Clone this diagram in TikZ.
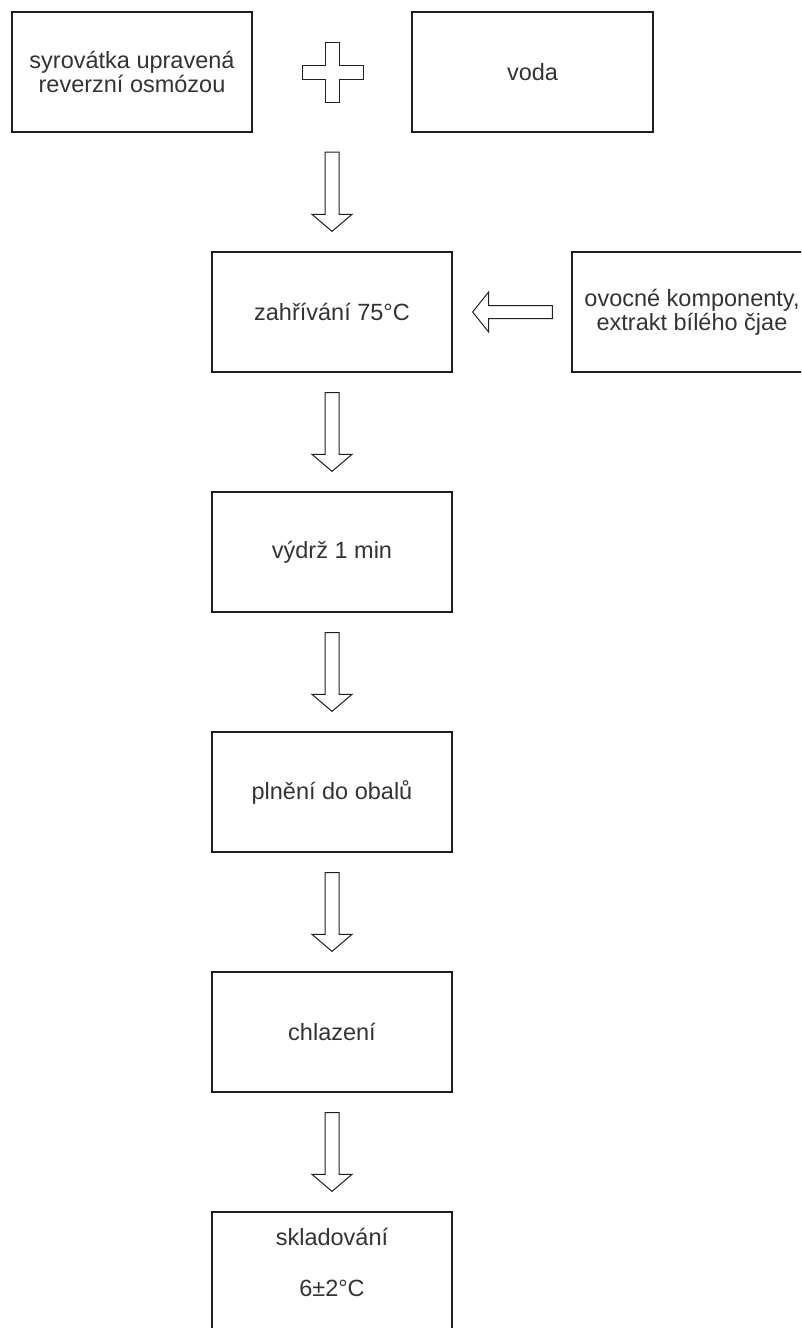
\documentclass[tikz,border=0pt]{standalone}
\usepackage{fontspec}
\setmainfont{Liberation Sans}
\usetikzlibrary{calc}
\definecolor{txt}{gray}{0.2}
\definecolor{ln}{gray}{0.12}
\tikzset{
  box/.style={draw=ln, line width=1.3pt, minimum width=240pt, minimum height=120pt,
    inner sep=0pt, align=center, text=txt, font=\fontsize{23.5}{24}\selectfont},
  lbl/.style={inner sep=0pt, align=center, text=txt, font=\fontsize{23.5}{24}\selectfont},
  blk/.style={draw=ln, line width=1pt, fill=white, line join=miter}
}
\newcommand\blkdown[2]{\draw[blk] ($(#1)+(-7pt,0)$) -- ($(#2)+(-7pt,17pt)$) -- ($(#2)+(-20pt,17pt)$) -- (#2) -- ($(#2)+(20pt,17pt)$) -- ($(#2)+(7pt,17pt)$) -- ($(#1)+(7pt,0)$) -- cycle;}
\begin{document}
\begin{tikzpicture}[x=1pt,y=1pt]
\useasboundingbox (0,0) rectangle (801,-1328);
\clip (0,0) rectangle (801,-1328);
% boxes
\node[box] (syr) at (132,-72) {syrovátka upravená\\reverzní osmózou};
\node[box, minimum width=241pt] (voda) at (532.5,-72) {voda};
\node[box] (zah) at (332,-312) {zahřívání 75°C};
\node[box] (ovo) at (692,-312) {ovocné komponenty,\\extrakt bílého čjae};
\node[box] (vyd) at (332,-552) {výdrž 1 min};
\node[box] (pln) at (332,-792) {plnění do obalů};
\node[box] (chl) at (332,-1032) {chlazení};
\node[box] (skl) at (332,-1272) {};
\node[lbl] (sklt) at (332,-1262) {skladování\\[27pt]6±2°C};
% plus sign
\coordinate (plus) at (332,-72);
\draw[blk] ($(plus)+(-7,30)$) -- ($(plus)+(7,30)$) -- ($(plus)+(7,7)$) -- ($(plus)+(31,7)$)
  -- ($(plus)+(31,-7)$) -- ($(plus)+(7,-7)$) -- ($(plus)+(7,-30)$) -- ($(plus)+(-7,-30)$)
  -- ($(plus)+(-7,-7)$) -- ($(plus)+(-30,-7)$) -- ($(plus)+(-30,7)$) -- ($(plus)+(-7,7)$) -- cycle;
% down arrows
\coordinate (a1s) at ($(plus)+(0,-80)$);
\coordinate (a1e) at ($(zah.north)+(0,20)$);
\blkdown{a1s}{a1e}
\coordinate (a2s) at ($(zah.south)+(0,-20)$);
\coordinate (a2e) at ($(vyd.north)+(0,20)$);
\blkdown{a2s}{a2e}
\coordinate (a3s) at ($(vyd.south)+(0,-20)$);
\coordinate (a3e) at ($(pln.north)+(0,20)$);
\blkdown{a3s}{a3e}
\coordinate (a4s) at ($(pln.south)+(0,-20)$);
\coordinate (a4e) at ($(chl.north)+(0,20)$);
\blkdown{a4s}{a4e}
\coordinate (a5s) at ($(chl.south)+(0,-20)$);
\coordinate (a5e) at ($(skl.north)+(0,20)$);
\blkdown{a5s}{a5e}
% left arrow
\coordinate (lS) at ($(ovo.west)+(-19,0)$);
\coordinate (lE) at ($(zah.east)+(20,0)$);
\draw[blk] ($(lS)+(0,6.5)$) -- ($(lE)+(16,6.5)$) -- ($(lE)+(16,20)$) -- (lE) -- ($(lE)+(16,-20)$)
  -- ($(lE)+(16,-6.5)$) -- ($(lS)+(0,-6.5)$) -- cycle;
\end{tikzpicture}
\end{document}
